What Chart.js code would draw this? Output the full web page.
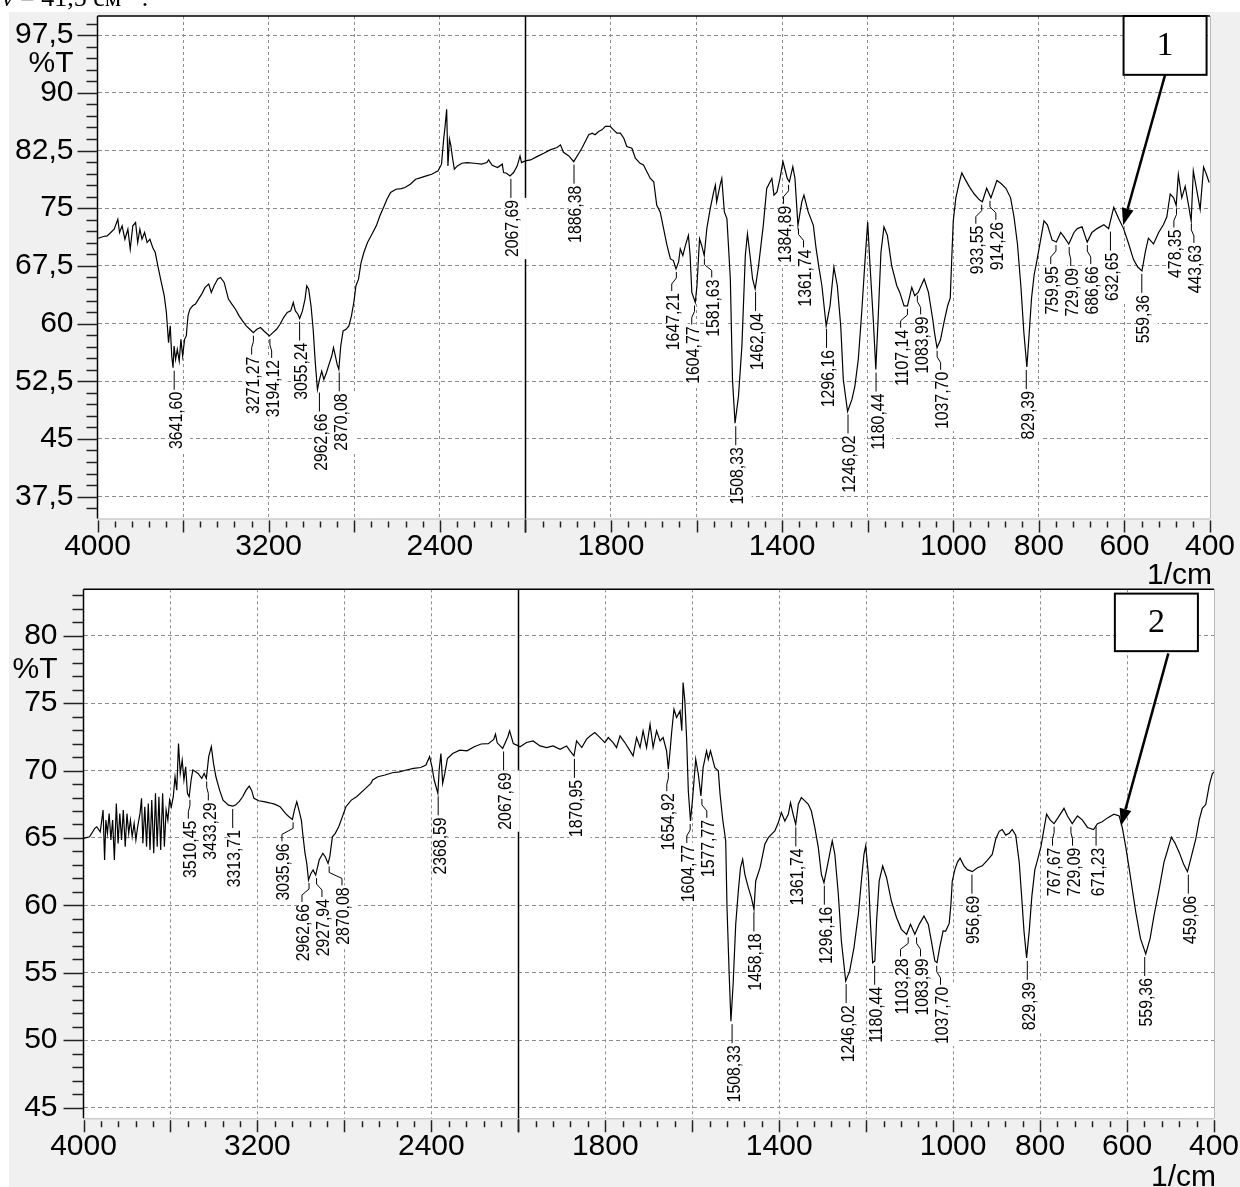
<!DOCTYPE html>
<html lang="ru">
<head>
<meta charset="UTF-8" />
<title>ИК-спектры 1 и 2</title>
<script src="https://cdn.jsdelivr.net/npm/chart.js"></script>
<style>
  html, body { margin: 0; padding: 0; background: #fff; }
  body { width: 1240px; height: 1187px; position: relative; overflow: hidden; }
  #bg { position: absolute; left: 9px; top: 12px; width: 1231px; height: 1175px; background: #f0f0f0; }
  canvas { position: absolute; left: 0; display: block; }
  #chart1 { top: 0; }
  #chart2 { top: 585px; }
</style>
</head>
<body>
<div id="bg"></div>
<canvas id="chart1" width="1240" height="585"></canvas>
<canvas id="chart2" width="1240" height="602"></canvas>
<script>
// --- spectrum 1 (wavenumber, 1/cm  ->  %T)
const wn1 = [4000,3972,3955,3938,3922,3905,3897,3885,3872,3858,3847,3835,3822,3812,3802,3792,3780,3768,3755,3742,3730,3718,3705,3688,3678,3668,3660,3653,3647,3642,3635,3627,3618,3610,3602,3593,3585,3577,3568,3555,3542,3528,3513,3497,3480,3468,3455,3438,3425,3408,3388,3372,3355,3338,3322,3305,3288,3272,3255,3238,3222,3205,3197,3180,3163,3147,3130,3113,3097,3085,3075,3063,3055,3042,3030,3022,3013,3002,2992,2982,2972,2962,2952,2942,2930,2918,2905,2897,2888,2880,2872,2863,2852,2838,2825,2813,2802,2792,2780,2768,2755,2738,2713,2697,2680,2663,2647,2630,2605,2580,2563,2538,2513,2488,2463,2438,2408,2392,2382,2375,2368,2362,2355,2348,2342,2332,2318,2297,2272,2238,2205,2180,2172,2155,2130,2108,2102,2088,2072,2055,2038,2025,2018,2000,1988,1973,1957,1942,1926,1918,1911,1899,1887,1875,1868,1860,1852,1844,1837,1829,1821,1813,1802,1794,1786,1778,1770,1763,1751,1743,1732,1724,1716,1708,1700,1693,1685,1677,1669,1661,1654,1648,1642,1638,1632,1626,1619,1615,1611,1603,1599,1593,1588,1582,1576,1568,1560,1556,1553,1545,1541,1535,1529,1521,1516,1510,1502,1494,1486,1481,1475,1469,1463,1455,1444,1436,1424,1419,1412,1405,1398,1393,1388,1383,1375,1370,1363,1354,1349,1339,1327,1321,1314,1307,1297,1288,1279,1271,1263,1257,1247,1237,1230,1222,1214,1206,1200,1195,1187,1181,1175,1169,1162,1154,1144,1132,1125,1115,1107,1097,1090,1082,1068,1058,1048,1044,1038,1030,1021,1013,1007,1004,1000,994,986,980,973,963,951,939,932,922,912,898,889,877,866,858,850,842,835,828,823,817,811,804,796,788,780,769,759,749,742,730,718,710,699,687,676,664,648,637,625,613,602,590,579,569,559,551,544,532,520,509,501,493,485,479,474,466,458,450,444,439,431,423,415,408,402];
const t1 = [71.06,71.32,71.41,71.84,72.27,73.57,71.84,72.71,70.97,72.27,69.67,72.71,73.14,70.54,72.27,70.97,71.84,70.54,70.97,69.89,69.24,67.5,65.77,63.61,61.44,57.52,59.7,55.78,54.25,57.08,55.34,56.65,55.12,57.95,55.78,57.95,58.39,61,61.87,62.31,62.53,63.18,63.83,64.7,65.14,64.05,64.92,65.79,66,65.35,63.18,62.53,61.87,61,60.35,59.7,59.26,58.82,59.26,59.48,59.04,58.61,58.39,58.82,59.26,59.91,60.78,61.44,61.65,62.74,61.65,61.22,60.65,61.65,63.18,64.92,64.48,62.31,59.26,54.91,51.42,52.73,53.82,52.73,53.6,54.69,55.78,56.87,55.78,54.69,54.04,57.08,59.04,59.26,59.7,61,62.74,64.92,65.77,67.94,69.24,70.54,71.84,72.71,74.01,75.09,76.17,77.04,77.47,77.56,77.69,78.12,78.77,78.99,79.21,79.42,79.86,80.73,83.98,85.71,87.88,80.51,83.98,83.11,81.81,80.07,80.51,80.85,80.94,80.85,80.73,80.94,81.29,80.59,80.29,80.73,79.64,79.55,79.21,79.64,80.51,81.81,80.94,81.16,81.28,81.71,82.15,82.59,82.89,83.24,82.28,81.84,81.06,82.15,82.8,83.68,84.55,84.77,84.55,84.98,85.2,85.64,85.64,85.2,84.77,84.77,84.11,83.02,82.8,81.5,80.84,80.62,79.75,78.88,78.44,75.39,74.52,72.34,70.16,68.41,68.19,67.1,67.98,69.72,68.85,70.16,71.47,68.85,64.05,62.74,64.92,71.03,70.16,68.85,72.34,74.95,77.13,78.01,75.83,78.01,78.88,74.52,73.65,65.8,52.71,47.04,50.53,57.07,68.85,71.68,68.85,65.8,64.49,67.54,72.77,77.57,78.88,76.7,77.13,78.88,81.06,79.97,78.88,78.44,80.41,78.88,72.77,75.83,76.7,74.52,72.77,69.94,67.32,64.92,59.69,62.31,67.32,64.92,59.69,52.71,48.57,50.1,51.84,55.33,61.43,68.41,73.21,67.98,60.56,54.02,61.43,69.28,72.56,71.47,67.54,64.92,64.05,62.31,62.31,64.71,63.62,64.05,65.8,64.05,60.56,58.85,56.85,57.85,60.35,62.35,63.35,67.85,73.35,76.35,78.35,79.6,78.85,77.85,76.85,76.1,75.85,77.6,76.35,78.6,78.25,77.6,76.35,73.85,70.35,64.85,58.85,54.35,58.35,63.35,66.35,68.35,70.85,73.35,72.85,70.85,70.6,71.85,71.35,70.35,71.85,72.35,72.6,70.6,71.85,72.35,72.85,72.35,75.1,73.6,72.35,70.35,68.35,67.35,66.85,69.35,71.1,70.35,71.85,72.85,73.85,76.85,76.35,75.35,79.35,76.35,77.85,75.35,73.35,79.85,77.35,74.85,80.35,79.35,78.35];
const peaks1 = ["3641,60","3271,27","3194,12","3055,24","2962,66","2870,08","2067,69","1886,38","1647,21","1604,77","1581,63","1508,33","1462,04","1384,89","1361,74","1296,16","1246,02","1180,44","1107,14","1083,99","1037,70","933,55","914,26","829,39","759,95","729,09","686,66","632,65","559,36","478,35","443,63"];

// --- spectrum 2
const wn2 = [4000,3972,3948,3939,3923,3910,3903,3897,3890,3882,3874,3866,3858,3849,3841,3833,3825,3817,3808,3800,3792,3784,3776,3767,3759,3751,3740,3733,3727,3718,3710,3702,3694,3686,3677,3669,3661,3653,3645,3636,3628,3620,3612,3604,3596,3587,3579,3571,3563,3555,3546,3538,3530,3522,3514,3505,3497,3484,3473,3456,3445,3435,3424,3412,3402,3391,3374,3358,3333,3314,3301,3284,3268,3252,3238,3227,3216,3194,3170,3145,3121,3096,3071,3055,3039,3030,3019,3009,2998,2990,2981,2973,2965,2954,2944,2932,2916,2899,2888,2875,2867,2855,2842,2826,2809,2793,2768,2744,2711,2678,2670,2646,2613,2580,2547,2515,2482,2449,2425,2408,2397,2387,2370,2364,2356,2348,2338,2326,2302,2269,2236,2203,2171,2138,2113,2105,2097,2072,2048,2040,2023,2007,1996,1981,1966,1950,1935,1920,1904,1889,1881,1872,1866,1854,1843,1835,1824,1812,1801,1793,1782,1774,1766,1755,1743,1736,1728,1720,1713,1705,1697,1690,1682,1674,1667,1659,1655,1651,1647,1642,1636,1628,1624,1621,1617,1613,1609,1604,1599,1592,1586,1580,1575,1567,1563,1558,1548,1540,1536,1530,1523,1520,1515,1511,1506,1500,1494,1489,1484,1479,1471,1464,1458,1454,1444,1433,1425,1418,1410,1402,1395,1387,1379,1374,1368,1362,1356,1349,1341,1333,1326,1318,1310,1303,1297,1287,1278,1272,1264,1257,1247,1238,1228,1218,1211,1205,1201,1195,1190,1185,1180,1176,1170,1162,1153,1142,1130,1119,1107,1098,1088,1078,1067,1057,1050,1042,1037,1031,1023,1017,1009,1005,1002,996,990,984,975,967,956,944,933,921,910,902,894,887,879,871,864,856,848,843,837,831,825,819,812,806,798,792,785,777,768,759,745,737,726,714,703,691,677,668,657,645,630,618,611,603,592,580,569,557,547,538,526,515,507,498,490,480,470,461,452,442,434,427,419,411,404,400];
const t2 = [64.97,65.09,65.71,65.83,65.46,67.07,63.36,66.33,65.34,66.82,64.85,66.33,63.36,67.56,64.6,66.82,64.85,67.07,64.35,66.82,65.34,66.33,65.09,66.08,64.85,65.83,66.82,67.94,64.6,67.32,64.35,67.56,64.1,67.81,63.86,68.31,64.35,68.06,64.1,68.31,64.35,67.07,66.33,67.81,67.32,68.06,69.54,68.55,72,69.79,70.78,69.3,70.28,68.31,68.06,69.3,70.04,69.91,69.79,69.42,69.79,69.42,71.03,71.77,70.53,69.54,68.55,67.81,67.44,67.37,67.44,67.69,68.06,68.55,68.85,68.55,67.94,67.76,67.69,67.61,67.51,67.32,66.82,66.58,66.38,67.07,67.69,67.07,66.33,65.09,63.86,63.11,61.88,62.37,62.62,62.25,63.36,63.86,63.61,63.11,63.61,65.09,65.34,65.83,66.58,67.32,67.81,68.06,68.55,69.05,69.3,69.54,69.67,69.84,69.91,70.04,70.16,70.23,70.41,71.03,70.28,69.3,68.31,70.04,71.27,69.05,69.79,70.9,71.27,71.52,71.47,71.77,71.97,72,72.31,72.71,72.06,71.64,72.51,72.95,72,71.89,71.76,72.08,72.2,71.83,71.71,71.83,71.58,71.83,71.46,71.09,72.2,71.71,72.33,72.57,72.82,72.45,72.08,72.45,72.08,71.71,72.57,72.08,71.46,71.09,72.45,71.71,72.95,71.71,73.44,71.71,72.95,72.2,72.45,71.46,70.1,71.46,72.95,74.55,73.94,74.43,72.95,76.53,75.17,72.45,68.49,66.26,68,70.84,69.73,68.12,70.22,71.46,70.84,71.46,70.22,69.98,68.24,66.39,64.78,59.83,54.88,51.41,54.13,58.59,61.06,62.8,63.42,62.3,61.31,60.57,59.7,61.81,62.8,64.53,65.02,65.27,65.52,66.14,66.88,66.26,66.76,67.62,66.76,66.01,67.5,68,67.75,67.5,67,65.77,64.28,62.3,61.68,63.29,64.78,63.79,60.82,57.35,54.38,55.12,56.86,59.33,61.81,63.79,64.41,62.3,58.59,55.74,55.87,58.84,61.81,62.92,62.05,60.32,59.08,58.22,57.85,58.59,57.85,58.59,59.21,58.59,57.35,55.87,55.74,56.86,58.1,58.09,58.66,60.09,61.79,62.65,63.21,63.5,62.93,62.65,62.5,62.79,62.93,63.36,63.78,64.92,65.49,65.63,65.21,65.35,65.63,65.21,63.21,60.94,58.09,56.1,58.09,60.65,62.65,63.36,64.35,65.49,66.77,66.34,66.06,66.49,67.2,66.63,66.06,66.63,66.34,65.78,65.63,66.06,66.2,66.49,66.77,66.63,65.78,64.35,62.08,59.52,57.53,56.39,57.53,59.23,61.22,63.21,64.07,65.06,64.64,63.93,63.07,62.5,63.64,64.92,66.34,67.2,67.48,68.9,69.76,69.9];
const peaks2 = ["3510,45","3433,29","3313,71","3035,96","2962,66","2927,94","2870,08","2368,59","2067,69","1870,95","1654,92","1604,77","1577,77","1508,33","1458,18","1361,74","1296,16","1246,02","1180,44","1103,28","1083,99","1037,70","956,69","829,39","767,67","729,09","671,23","559,36","459,06"];

// axis labels
const xTickLabels = ["4000", "3200", "2400", "1800", "1400", "1000", "800", "600", "400"];
const yMajor1 = [37.5, 45, 52.5, 60, 67.5, 75, 82.5, 90, 97.5];
const yMajor2 = [45, 50, 55, 60, 65, 70, 75, 80];

const SANS = '"Liberation Sans", Arial, sans-serif';
const SERIF = '"Liberation Serif", "Times New Roman", serif';

// the instrument scale doubles below 2000 1/cm; u is the position along the axis
function toU(w) { return w >= 2000 ? (4000 - w) / 2 : 1000 + (2000 - w); }
function fromU(u) { return u <= 1000 ? 4000 - 2 * u : 2000 - (u - 1000); }

const xTickU = [];
for (let u = 0; u <= 2600; u += 40) xTickU.push(u);

function buildYTicks(major, step, min, max) {
  const out = [];
  const base = major[0];
  const kMin = Math.ceil((min - base) / step - 1e-9);
  const kMax = Math.floor((max - base) / step + 1e-9);
  for (let k = kMin; k <= kMax; k++) out.push(+(base + k * step).toFixed(4));
  return out;
}
const isIn = (list, v) => list.some((m) => Math.abs(m - v) < 1e-6);

function arrow(ctx, x1, y1, x2, y2) {
  const ang = Math.atan2(y2 - y1, x2 - x1), L = 17, W = 6;
  const bx = x2 - L * Math.cos(ang), by = y2 - L * Math.sin(ang);
  ctx.beginPath(); ctx.moveTo(x1, y1); ctx.lineTo(bx, by); ctx.stroke();
  ctx.beginPath(); ctx.moveTo(x2, y2);
  ctx.lineTo(bx + W * Math.sin(ang), by - W * Math.cos(ang));
  ctx.lineTo(bx - W * Math.sin(ang), by + W * Math.cos(ang));
  ctx.closePath(); ctx.fill();
}

const LABEL_SQUEEZE = 0.88; // peak labels are set in a narrow face
const LABEL_FONT = "18px " + SANS;

// place the peak labels under their minima and spread the crowded ones apart
function layoutPeaks(chart, cfg) {
  const xs = chart.scales.x, ys = chart.scales.y, ctx = chart.ctx;
  const pts = cfg.wn.map((w, i) => ({ px: xs.getPixelForValue(toU(w)), py: ys.getPixelForValue(cfg.t[i]) }));
  const items = cfg.peaks.map((s) => {
    const w = parseFloat(s.replace(",", "."));
    const px = xs.getPixelForValue(toU(w));
    let py = -Infinity, best = null, bd = Infinity;
    pts.forEach((p) => {
      const d = Math.abs(p.px - px);
      if (d <= 2.5) py = Math.max(py, p.py);
      if (d < bd) { bd = d; best = p; }
    });
    if (py === -Infinity) py = best.py;
    return { s, px, py, lx: px };
  }).sort((p, q) => p.px - q.px);
  const GAP = 20;
  for (let k = 0; k < 80; k++) {
    for (let i = 1; i < items.length; i++) {
      const d = items[i].lx - items[i - 1].lx;
      if (d < GAP) {
        const sh = (GAP - d) / 2;
        items[i - 1].lx -= sh;
        items[i].lx += sh;
      }
    }
  }
  ctx.save();
  ctx.font = LABEL_FONT;
  items.forEach((it) => {
    it.w = ctx.measureText(it.s).width * LABEL_SQUEEZE;
    it.y0 = it.py + 3;
    it.top = it.y0 + 19;
  });
  ctx.restore();
  return items;
}

function spectrumPlugin(cfg) {
  let items = [];
  return {
    id: "spectrum" + cfg.id,
    beforeDraw(chart) {
      const { ctx, chartArea: a } = chart;
      ctx.save();
      ctx.fillStyle = "#fff";
      ctx.fillRect(a.left, a.top, a.right - a.left, a.bottom - a.top);
      ctx.restore();
    },
    beforeDatasetsDraw(chart) {
      const { ctx, chartArea: a, scales } = chart;
      // solid line at 2000 1/cm where the scale changes
      const bx = Math.round(scales.x.getPixelForValue(toU(2000))) + 0.5;
      ctx.save();
      ctx.strokeStyle = "#000";
      ctx.lineWidth = 1.5;
      ctx.beginPath(); ctx.moveTo(bx, a.top); ctx.lineTo(bx, a.bottom + 14); ctx.stroke();
      // label backgrounds hide the grid under the numbers
      items = layoutPeaks(chart, cfg);
      ctx.fillStyle = "#fff";
      items.forEach((it) => ctx.fillRect(it.lx - 5, it.top, 21, it.w + 4));
      ctx.restore();
    },
    afterDatasetsDraw(chart) {
      const { ctx, chartArea: a } = chart;
      const xs = chart.scales.x, ys = chart.scales.y;
      ctx.save();

      // frame
      ctx.lineWidth = 1;
      ctx.strokeStyle = "#b8b8b8";
      ctx.beginPath();
      ctx.moveTo(a.left, a.bottom + 0.5); ctx.lineTo(a.right, a.bottom + 0.5);
      ctx.moveTo(a.right + 0.5, a.top); ctx.lineTo(a.right + 0.5, a.bottom);
      ctx.stroke();
      ctx.strokeStyle = "#000";
      ctx.lineWidth = 1.5;
      ctx.beginPath();
      ctx.moveTo(a.left, a.top); ctx.lineTo(a.right, a.top);
      ctx.moveTo(a.left, a.top); ctx.lineTo(a.left, a.bottom);
      ctx.stroke();

      // tick marks
      ctx.strokeStyle = "#222";
      ctx.lineWidth = 1.5;
      ctx.beginPath();
      xTickU.forEach((u) => {
        const px = Math.round(xs.getPixelForValue(u)) + 0.5;
        const major = u % 200 === 0;
        ctx.moveTo(px, a.bottom + (major ? 2 : 3));
        ctx.lineTo(px, a.bottom + (major ? 14 : 9));
      });
      cfg.yTicks.forEach((v) => {
        const py = Math.round(ys.getPixelForValue(v)) + 0.5;
        const major = isIn(cfg.yMajor, v);
        ctx.moveTo(a.left - (major ? 20 : 11), py);
        ctx.lineTo(a.left, py);
      });
      ctx.stroke();

      // peak labels with leaders
      ctx.font = LABEL_FONT;
      ctx.strokeStyle = "#000";
      ctx.fillStyle = "#000";
      ctx.lineWidth = 1;
      items.forEach((it) => {
        ctx.beginPath();
        ctx.moveTo(it.px, it.y0);
        if (Math.abs(it.lx - it.px) < 1) {
          ctx.lineTo(it.px, it.top);
        } else {
          ctx.lineTo(it.px, it.y0 + 6);
          ctx.lineTo(it.lx, it.y0 + 12);
          ctx.lineTo(it.lx, it.top);
        }
        ctx.stroke();
        ctx.save();
        ctx.translate(it.lx + 2.5, it.top + 2 + it.w);
        ctx.rotate(-Math.PI / 2);
        ctx.scale(LABEL_SQUEEZE, 1);
        ctx.textAlign = "left";
        ctx.textBaseline = "middle";
        ctx.fillText(it.s, 0, 0);
        ctx.restore();
      });

      // axis captions
      ctx.fillStyle = "#000";
      ctx.font = "30px " + SANS;
      ctx.textAlign = "right";
      ctx.textBaseline = "middle";
      ctx.fillText("%T", a.left - cfg.yPad, ys.getPixelForValue(cfg.pctAt));
      ctx.fillText("1/cm", a.right + 2, a.bottom + cfg.cmOffset);

      // numbered box with arrow
      const n = cfg.note;
      const bx1 = xs.getPixelForValue(toU(n.box[0])), bx2 = xs.getPixelForValue(toU(n.box[1]));
      const by1 = ys.getPixelForValue(n.box[2]), by2 = ys.getPixelForValue(n.box[3]);
      ctx.fillStyle = "#fff";
      ctx.fillRect(bx1, by1, bx2 - bx1, by2 - by1);
      ctx.strokeStyle = "#000";
      ctx.lineWidth = 2;
      ctx.strokeRect(bx1, by1, bx2 - bx1, by2 - by1);
      ctx.fillStyle = "#000";
      ctx.font = "34px " + SERIF;
      ctx.textAlign = "center";
      ctx.fillText(n.text, (bx1 + bx2) / 2, (by1 + by2) / 2 + 1);
      ctx.lineWidth = 2.5;
      arrow(ctx,
        xs.getPixelForValue(toU(n.from[0])), ys.getPixelForValue(n.from[1]),
        xs.getPixelForValue(toU(n.to[0])), ys.getPixelForValue(n.to[1]));

      ctx.restore();
    },
    afterDraw(chart) {
      if (!cfg.caption) return;
      const ctx = chart.ctx;
      ctx.save();
      ctx.fillStyle = "#000";
      ctx.textBaseline = "alphabetic";
      ctx.textAlign = "left";
      let x = 2;
      const y = 6;
      ctx.font = "italic 26px " + SERIF;
      ctx.fillText("ν", x, y); x += ctx.measureText("ν").width;
      ctx.font = "26px " + SERIF;
      ctx.fillText(" = 41,5 см", x, y); x += ctx.measureText(" = 41,5 см").width;
      ctx.font = "17px " + SERIF;
      ctx.fillText("-1", x, y - 10); x += ctx.measureText("-1").width;
      ctx.font = "26px " + SERIF;
      ctx.fillText(" .", x, y);
      ctx.restore();
    },
  };
}

function makeChart(cfg) {
  cfg.yTicks = buildYTicks(cfg.yMajor, cfg.yStep, cfg.yMin, cfg.yMax);
  const points = cfg.wn.map((w, i) => ({ x: toU(w), y: cfg.t[i] }));
  return new Chart(document.getElementById(cfg.id), {
    type: "line",
    data: {
      datasets: [{
        data: points,
        borderColor: "#000",
        borderWidth: 1.2,
        pointRadius: 0,
        tension: 0,
        fill: false,
      }],
    },
    options: {
      responsive: false,
      animation: false,
      events: [],
      layout: { padding: { left: 0, right: cfg.padRight, top: cfg.padTop, bottom: 0 } },
      plugins: { legend: { display: false }, tooltip: { enabled: false } },
      scales: {
        x: {
          type: "linear",
          min: 0,
          max: 2600,
          afterBuildTicks: (s) => { s.ticks = xTickU.map((v) => ({ value: v })); },
          afterFit: (s) => { s.height = cfg.xAxisH; s.paddingLeft = 0; s.paddingRight = 0; },
          ticks: {
            autoSkip: false,
            maxRotation: 0,
            padding: cfg.xPad,
            color: "#000",
            font: { family: SANS, size: 30 },
            callback: (v) => {
              const lab = String(Math.round(fromU(v)));
              return xTickLabels.includes(lab) ? lab : "";
            },
          },
          grid: {
            drawTicks: false,
            lineWidth: 1,
            color: (c) => {
              const u = c.tick ? c.tick.value : -1;
              return u % 200 === 0 && u !== 0 && u !== 1000 ? "#8c8c8c" : "rgba(0,0,0,0)";
            },
          },
          border: { display: false, dash: [3, 3] },
        },
        y: {
          type: "linear",
          min: cfg.yMin,
          max: cfg.yMax,
          afterBuildTicks: (s) => { s.ticks = cfg.yTicks.map((v) => ({ value: v })); },
          afterFit: (s) => { s.width = cfg.yAxisW; s.paddingTop = 0; s.paddingBottom = 0; },
          ticks: {
            autoSkip: false,
            padding: cfg.yPad,
            color: "#000",
            font: { family: SANS, size: 30 },
            callback: (v) => (isIn(cfg.yMajor, v) ? String(v).replace(".", ",") : ""),
          },
          grid: {
            drawTicks: false,
            lineWidth: 1,
            color: (c) => (c.tick && isIn(cfg.yMajor, c.tick.value) ? "#8c8c8c" : "rgba(0,0,0,0)"),
          },
          border: { display: false, dash: [4, 3] },
        },
      },
    },
    plugins: [spectrumPlugin(cfg)],
  });
}

makeChart({
  id: "chart1", wn: wn1, t: t1, peaks: peaks1,
  yMajor: yMajor1, yStep: 1.5, yMin: 34.65, yMax: 100, pctAt: 93.75,
  padRight: 30, padTop: 16, xAxisH: 66.5, yAxisW: 97.5, xPad: 10, yPad: 24, cmOffset: 57,
  note: { text: "1", box: [602, 408, 100, 92.35], from: [505, 92.35], to: [603, 72.8] },
  caption: true,
});

makeChart({
  id: "chart2", wn: wn2, t: t2, peaks: peaks2,
  yMajor: yMajor2, yStep: 1, yMin: 44.2, yMax: 83.45, pctAt: 77.5,
  padRight: 26, padTop: 4.3, xAxisH: 68.7, yAxisW: 83.5, xPad: 10, yPad: 26, cmOffset: 59,
  note: { text: "2", box: [628, 437, 83.13, 78.86], from: [505, 78.7], to: [614, 65.9] },
  caption: false,
});
</script>
</body>
</html>
